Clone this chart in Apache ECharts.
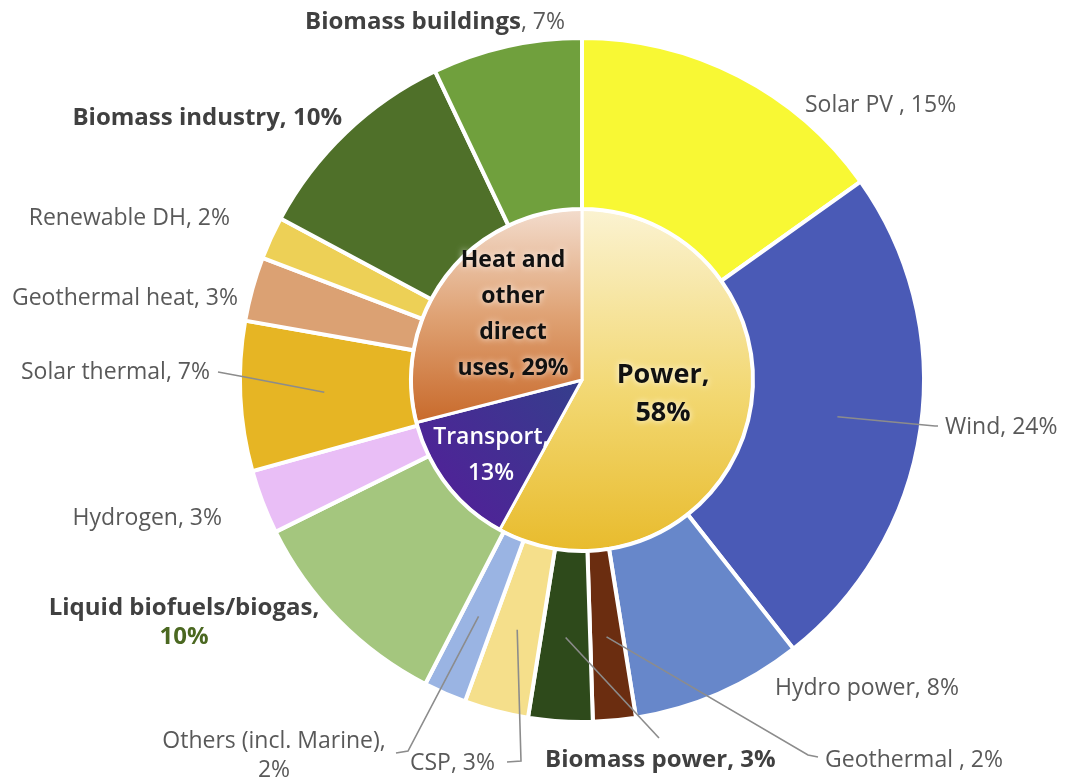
<!DOCTYPE html>
<html>
<head>
<meta charset="utf-8">
<script src="https://cdn.jsdelivr.net/npm/echarts@6/dist/echarts.min.js"></script>
<style>
  html, body { margin: 0; padding: 0; background: #ffffff; }
  #chart { width: 1065px; height: 782px; }
</style>
</head>
<body>
<div id="chart"></div>
<script>
// Inner ring: end-use sectors (share of total, %)
const sectorNames = ['Power', 'Transport', 'Heat and other direct uses'];
const sectorValues = [58, 13, 29];

// Outer ring: technologies within each sector (share of total, %)
const sourceNames = [
  'Solar PV ', 'Wind', 'Hydro power', 'Geothermal ', 'Biomass power', 'CSP',
  'Others (incl. Marine)', 'Liquid biofuels/biogas', 'Hydrogen', 'Solar thermal',
  'Geothermal heat', 'Renewable DH', 'Biomass industry', 'Biomass buildings'
];
const sourceValues = [15, 24, 8, 2, 3, 3, 2, 10, 3, 7, 3, 2, 10, 7];

// ---- styling ----
const CX = 582, CY = 380;
const INNER_R = 171, OUTER_R = 342;
const LEADER_R = 258;
const FONT = '"Open Sans", Lato, sans-serif';

const sourceColors = {
  'Solar PV ': '#F8F834',
  'Wind': '#4A5AB6',
  'Hydro power': '#6787CA',
  'Geothermal ': '#6B2D10',
  'Biomass power': '#2E4A1B',
  'CSP': '#F5DF8B',
  'Others (incl. Marine)': '#9AB4E3',
  'Liquid biofuels/biogas': '#A4C67E',
  'Hydrogen': '#E9BEF6',
  'Solar thermal': '#E6B524',
  'Geothermal heat': '#DBA173',
  'Renewable DH': '#EDD056',
  'Biomass industry': '#4F7029',
  'Biomass buildings': '#70A03D'
};

const sectorColors = {
  'Power': { type: 'linear', x: 0, y: 0, x2: 0, y2: 1,
    colorStops: [{ offset: 0, color: '#FBF3D2' }, { offset: 0.55, color: '#F2D770' }, { offset: 1, color: '#E8BB2C' }] },
  'Transport': { type: 'linear', x: 1, y: 0, x2: 0, y2: 1,
    colorStops: [{ offset: 0, color: '#343F8C' }, { offset: 1, color: '#561B9A' }] },
  'Heat and other direct uses': { type: 'linear', x: 0, y: 0, x2: 0, y2: 1,
    colorStops: [{ offset: 0, color: '#F3DDCE' }, { offset: 0.5, color: '#DFA274' }, { offset: 1, color: '#C8692A' }] }
};

// label placement (anchor point, alignment, optional leader-line bend points)
const sourceLabelPlacement = {
  'Solar PV ': { x: 805, y: 105, align: 'left' },
  'Wind': { x: 945, y: 427, align: 'left', line: [[935, 426], [938, 426]] },
  'Hydro power': { x: 775, y: 688, align: 'left' },
  'Geothermal ': { x: 825, y: 760, align: 'left', line: [[808, 755], [818, 757]] },
  'Biomass power': { x: 545, y: 760, align: 'left', line: [[659, 738], [659, 738]] },
  'CSP': { x: 410, y: 763, align: 'left', line: [[521, 761], [507, 762]] },
  'Others (incl. Marine)': { x: 274, y: 756, align: 'center', line: [[408, 751], [396, 753]] },
  'Liquid biofuels/biogas': { x: 184, y: 623, align: 'center' },
  'Hydrogen': { x: 222, y: 518, align: 'right' },
  'Solar thermal': { x: 210, y: 372, align: 'right', line: [[245, 377], [218, 372]] },
  'Geothermal heat': { x: 238, y: 298, align: 'right' },
  'Renewable DH': { x: 230, y: 218, align: 'right' },
  'Biomass industry': { x: 342, y: 118, align: 'right' },
  'Biomass buildings': { x: 435, y: 22, align: 'center' }
};

const sectorLabelPlacement = {
  'Power': { x: 663, y: 394 },
  'Transport': { x: 491, y: 455 },
  'Heat and other direct uses': { x: 513, y: 314 }
};

function sourceLabel(name, value) {
  const pct = value + '%';
  switch (name) {
    case 'Biomass buildings': return '{b|' + name + '}{r|, ' + pct + '}';
    case 'Biomass industry':
    case 'Biomass power': return '{b|' + name + ', ' + pct + '}';
    case 'Liquid biofuels/biogas': return '{b|' + name + ',}\n{g|' + pct + '}';
    case 'Others (incl. Marine)': return '{r|' + name + ',}\n{r|' + pct + '}';
    default: return '{r|' + name + ', ' + pct + '}';
  }
}

function sectorLabel(name, value) {
  const pct = value + '%';
  if (name === 'Power') return '{p|Power,}\n{p|' + pct + '}';
  if (name === 'Transport') return '{t|Transport,}\n{t|' + pct + '}';
  return '{h|Heat and}\n{h|other}\n{h|direct}\n{h|uses, ' + pct + '}';
}

const sectorData = sectorNames.map((n, i) => ({
  name: n, value: sectorValues[i], itemStyle: { color: sectorColors[n] }
}));

const sourceData = sourceNames.map((n, i) => ({
  name: n, value: sourceValues[i], itemStyle: { color: sourceColors[n] }
}));

// same slices again, transparent, carrying the labels and leader lines on top
const sourceLabelData = sourceNames.map((n, i) => ({
  name: n, value: sourceValues[i],
  labelLine: { show: !!sourceLabelPlacement[n].line }
}));

const chart = echarts.init(document.getElementById('chart'), null, { renderer: 'canvas' });

chart.setOption({
  backgroundColor: '#ffffff',
  animation: false,
  series: [
    {
      type: 'pie',
      name: 'Sectors',
      z: 2,
      center: [CX, CY],
      radius: [0, INNER_R],
      startAngle: 90,
      clockwise: true,
      avoidLabelOverlap: false,
      itemStyle: { borderColor: '#ffffff', borderWidth: 3 },
      label: {
        show: true,
        position: 'inside',
        formatter: p => sectorLabel(p.name, p.value),
        rich: {
          p: { fontFamily: FONT, fontSize: 27, fontWeight: 'bold', color: '#111111', lineHeight: 38,
               textShadowColor: 'rgba(255,255,255,0.9)', textShadowBlur: 6 },
          h: { fontFamily: FONT, fontSize: 23, fontWeight: 'bold', color: '#111111', lineHeight: 36,
               textShadowColor: 'rgba(255,255,255,0.85)', textShadowBlur: 6 },
          t: { fontFamily: FONT, fontSize: 23, fontWeight: 600, color: '#ffffff', lineHeight: 36 }
        }
      },
      labelLine: { show: false },
      labelLayout: function (p) {
        const pos = sectorLabelPlacement[sectorNames[p.dataIndex]];
        return { x: pos.x, y: pos.y, align: 'center', verticalAlign: 'middle' };
      },
      data: sectorData
    },
    {
      type: 'pie',
      name: 'Sources',
      z: 2,
      center: [CX, CY],
      radius: [INNER_R, OUTER_R],
      startAngle: 90,
      clockwise: true,
      itemStyle: { borderColor: '#ffffff', borderWidth: 4 },
      label: { show: false },
      labelLine: { show: false },
      data: sourceData
    },
    {
      type: 'pie',
      name: 'Source labels',
      z: 5,
      silent: true,
      center: [CX, CY],
      radius: [INNER_R, OUTER_R],
      startAngle: 90,
      clockwise: true,
      avoidLabelOverlap: false,
      itemStyle: { color: 'rgba(0,0,0,0)', borderWidth: 0 },
      label: {
        show: true,
        position: 'outside',
        formatter: p => sourceLabel(p.name, p.value),
        rich: {
          r: { fontFamily: FONT, fontSize: 23, color: '#595959', lineHeight: 29 },
          b: { fontFamily: FONT, fontSize: 24, fontWeight: 'bold', color: '#404040', lineHeight: 29 },
          g: { fontFamily: FONT, fontSize: 24, fontWeight: 'bold', color: '#4B6821', lineHeight: 29 }
        }
      },
      labelLine: {
        show: true,
        showAbove: true,
        length: 10,
        length2: 10,
        lineStyle: { color: '#8C8C8C', width: 1.6 }
      },
      labelLayout: function (p) {
        const pos = sourceLabelPlacement[sourceNames[p.dataIndex]];
        const out = { x: pos.x, y: pos.y, align: pos.align, verticalAlign: 'middle' };
        if (pos.line && p.labelLinePoints) {
          const p0 = p.labelLinePoints[0];
          const dx = p0[0] - CX, dy = p0[1] - CY;
          const len = Math.sqrt(dx * dx + dy * dy) || 1;
          const start = [CX + dx / len * LEADER_R, CY + dy / len * LEADER_R];
          out.labelLinePoints = [start].concat(pos.line);
        }
        return out;
      },
      data: sourceLabelData
    }
  ]
});
</script>
</body>
</html>
